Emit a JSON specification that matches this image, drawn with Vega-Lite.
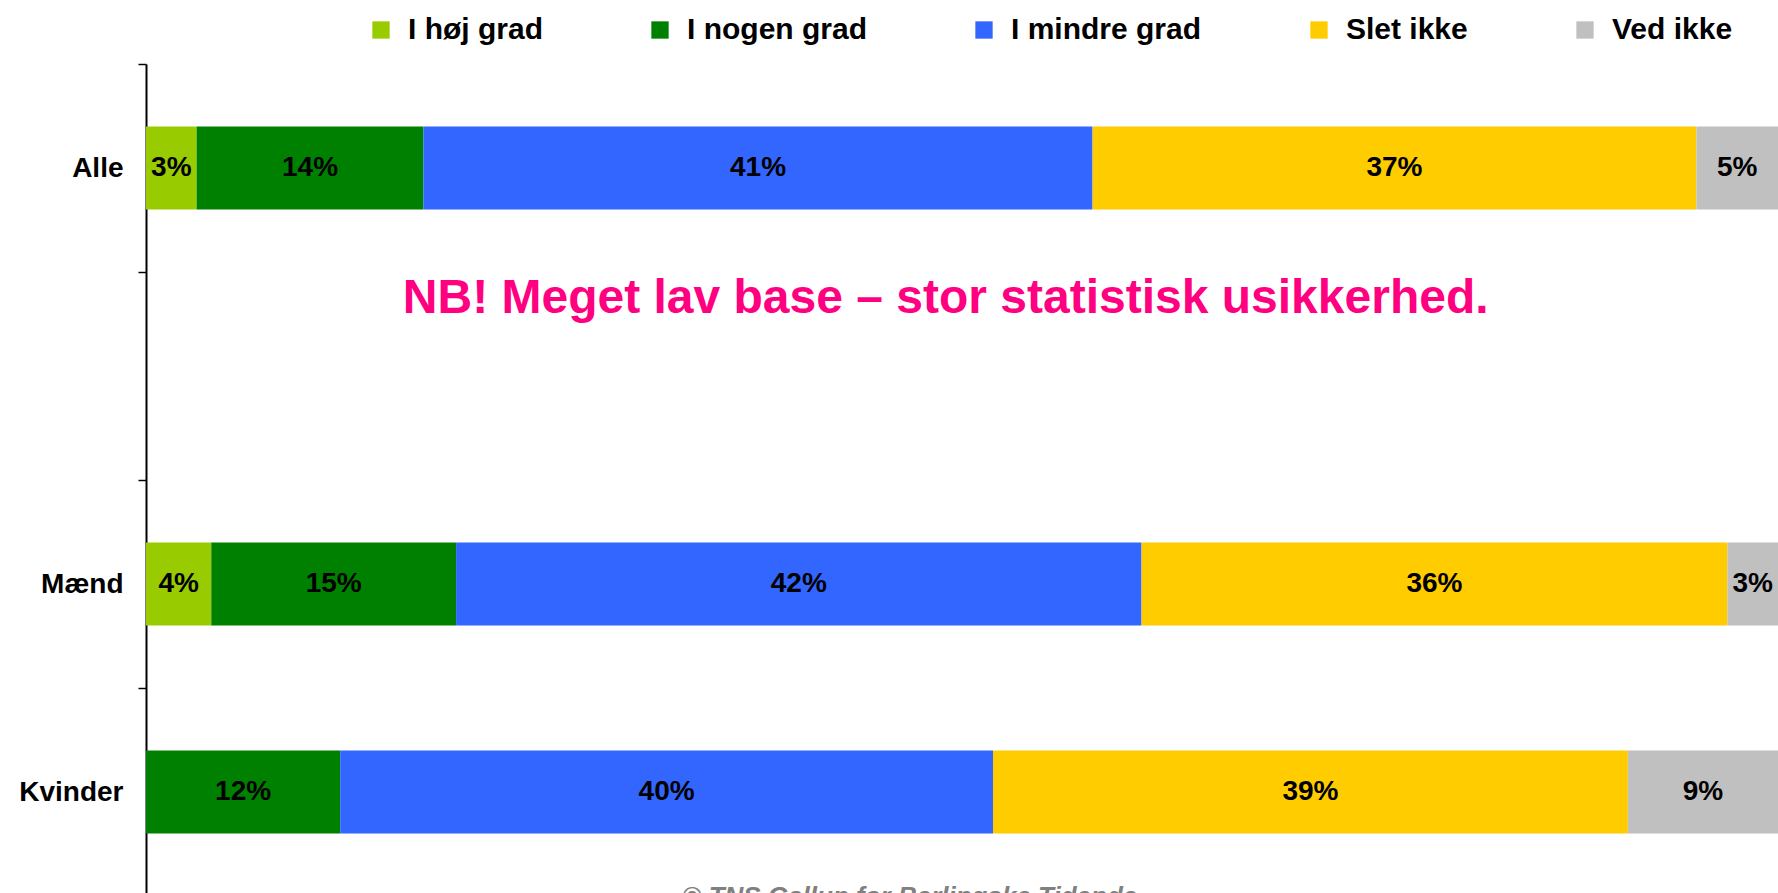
{
  "$schema": "https://vega.github.io/schema/vega-lite/v6.json",
  "width": 1632,
  "height": 829,
  "autosize": {"type": "none"},
  "padding": {"left": 146, "top": 64, "right": 0, "bottom": 0},
  "background": "white",
  "config": {
    "font": "Liberation Sans",
    "view": {"stroke": null},
    "axis": {"grid": false}
  },
  "layer": [
    {
      "data": {
        "values": [
          {"group": "Alle", "answer": "I høj grad", "k": 1, "share": 0.031},
          {"group": "Alle", "answer": "I nogen grad", "k": 2, "share": 0.139},
          {"group": "Alle", "answer": "I mindre grad", "k": 3, "share": 0.410},
          {"group": "Alle", "answer": "Slet ikke", "k": 4, "share": 0.370},
          {"group": "Alle", "answer": "Ved ikke", "k": 5, "share": 0.050},
          {"group": "Mænd", "answer": "I høj grad", "k": 1, "share": 0.040},
          {"group": "Mænd", "answer": "I nogen grad", "k": 2, "share": 0.150},
          {"group": "Mænd", "answer": "I mindre grad", "k": 3, "share": 0.420},
          {"group": "Mænd", "answer": "Slet ikke", "k": 4, "share": 0.359},
          {"group": "Mænd", "answer": "Ved ikke", "k": 5, "share": 0.031},
          {"group": "Kvinder", "answer": "I nogen grad", "k": 2, "share": 0.119},
          {"group": "Kvinder", "answer": "I mindre grad", "k": 3, "share": 0.400},
          {"group": "Kvinder", "answer": "Slet ikke", "k": 4, "share": 0.389},
          {"group": "Kvinder", "answer": "Ved ikke", "k": 5, "share": 0.092}
        ]
      },
      "layer": [
        {
          "mark": {"type": "bar", "height": {"band": 0.4}},
          "encoding": {
            "y": {
              "field": "group",
              "type": "nominal",
              "sort": ["Alle", " ", "Mænd", "Kvinder"],
              "scale": {
                "domain": ["Alle", " ", "Mænd", "Kvinder"],
                "range": [0, 832],
                "paddingInner": 0,
                "paddingOuter": 0
              },
              "axis": {
                "title": null,
                "tickBand": "extent",
                "labelFontSize": 28,
                "labelFontWeight": "bold",
                "labelColor": "black",
                "labelPadding": 15,
                "tickSize": 8,
                "tickColor": "black",
                "tickWidth": 1.5,
                "domainColor": "black",
                "domainWidth": 2
              }
            },
            "x": {
              "field": "share",
              "type": "quantitative",
              "stack": "zero",
              "scale": {"domain": [0, 1], "nice": false},
              "axis": null
            },
            "color": {
              "field": "answer",
              "type": "nominal",
              "scale": {
                "domain": ["I høj grad", "I nogen grad", "I mindre grad", "Slet ikke", "Ved ikke"],
                "range": ["#99CC00", "#008000", "#3366FF", "#FFCC00", "#C0C0C0"]
              },
              "legend": {
                "title": null,
                "orient": "none",
                "legendX": 220,
                "legendY": -49,
                "direction": "horizontal",
                "columns": 5,
                "symbolType": "square",
                "symbolSize": 300,
                "symbolStrokeWidth": 0,
                "labelFontSize": 30,
                "labelFontWeight": "bold",
                "labelColor": "black",
                "labelOffset": 12,
                "labelLimit": 400,
                "columnPadding": 102
              }
            },
            "order": {"field": "k", "type": "quantitative"}
          }
        },
        {
          "mark": {"type": "text", "fontSize": 28, "fontWeight": "bold", "color": "black", "baseline": "middle", "align": "center"},
          "encoding": {
            "y": {"field": "group", "type": "nominal", "sort": ["Alle", " ", "Mænd", "Kvinder"]},
            "x": {"field": "share", "type": "quantitative", "stack": "zero", "bandPosition": 0.5},
            "detail": {"field": "answer"},
            "order": {"field": "k", "type": "quantitative"},
            "text": {"field": "share", "type": "quantitative", "format": ".0%"}
          }
        }
      ]
    },
    {
      "data": {"values": [{"note": "NB! Meget lav base – stor statistisk usikkerhed."}]},
      "mark": {"type": "text", "fontSize": 48, "fontWeight": "bold", "color": "#FF0080", "baseline": "middle", "align": "center", "dy": -77},
      "encoding": {
        "x": {"datum": 0.49, "type": "quantitative"},
        "y": {"datum": " ", "type": "nominal"},
        "text": {"field": "note"}
      }
    },
    {
      "data": {"values": [{"note": "© TNS Gallup for Berlingske Tidende"}]},
      "mark": {"type": "text", "fontSize": 26, "fontWeight": "bold", "fontStyle": "italic", "color": "#808080", "baseline": "alphabetic", "align": "center", "dy": 113},
      "encoding": {
        "x": {"datum": 0.468, "type": "quantitative"},
        "y": {"datum": "Kvinder", "type": "nominal"},
        "text": {"field": "note"}
      }
    }
  ]
}
